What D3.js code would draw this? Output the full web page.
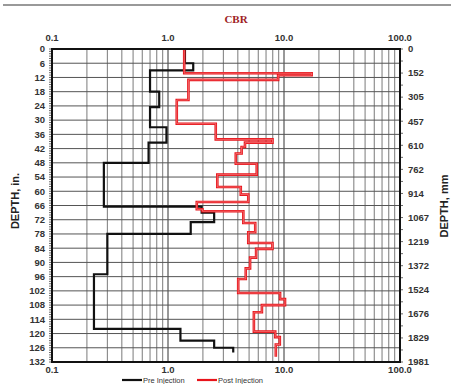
<!DOCTYPE html>
<html>
<head>
<meta charset="utf-8">
<script src="https://cdn.jsdelivr.net/npm/d3@7"></script>
<style>
  body { margin: 0; background: #fff; }
  svg { display: block; font-family: Arial, "Liberation Sans", sans-serif; }
  .lbl { font-size: 9.5px; font-weight: bold; fill: #333; }
</style>
</head>
<body>
<svg id="chart" width="451" height="384"></svg>
<script>
// CBR profile, depth breakpoints (in.) and the value in each layer
var preDepth = [0, 6, 9, 18, 24.5, 33, 39.5, 48, 66.5, 69, 73, 78, 95, 118, 123, 126, 128];
var preCbr = [1.4, 1.65, 0.70, 0.84, 0.70, 0.97, 0.68, 0.28, 1.95, 2.5, 1.57, 0.30, 0.23, 1.28, 2.5, 3.65];

var postDepth = [0, 10.2, 11, 13, 21.5, 31.5, 38.1, 39.5, 41.3, 44.1, 48.4, 53, 58.2, 61.4, 64.5, 67.6, 68.4,
    73.4, 77.3, 81.8, 84.3, 88, 92.5, 97, 102.9, 105.5, 108, 111, 119.2, 121.5, 124.6, 129.8];
var postCbr = [1.38, 17.3, 8.9, 1.50, 1.19, 2.58, 7.95, 4.61, 4.31, 3.84, 5.82, 2.66, 4.24, 4.92, 1.77, 1.98,
    4.46, 5.65, 4.92, 7.95, 5.75, 5.1, 4.68, 4.03, 9.25, 10.2, 6.45, 5.5, 8.4, 9.2, 8.5];

var xTicks = [0.1, 1, 10, 100];
var inTicks = d3.range(0, 133, 6);
var mmTicks = d3.range(0, 14).map(function (i) { return i * 152.4; });

var svg = d3.select("#chart"),
    margin = { top: 49, right: 50, bottom: 22, left: 52 },
    width = +svg.attr("width") - margin.left - margin.right,
    height = +svg.attr("height") - margin.top - margin.bottom;

var x = d3.scaleLog().domain([0.1, 100]).range([margin.left, margin.left + 348]);
var y = d3.scaleLinear().domain([0, 132]).range([margin.top, margin.top + 313]);
var yMm = d3.scaleLinear().domain([0, 1981.2]).range([margin.top, margin.top + 313]);

// top rule + title
svg.append("line")
    .attr("x1", 3).attr("x2", 451).attr("y1", 5).attr("y2", 5)
    .attr("stroke", "#777").attr("stroke-width", 1.5);

svg.append("text")
    .attr("x", 236).attr("y", 23)
    .attr("text-anchor", "middle")
    .style("font-family", "'Liberation Serif', 'DejaVu Serif', serif")
    .style("font-weight", "bold")
    .style("font-size", "11px")
    .style("fill", "#9e2224")
    .text("CBR");

// grid
var minor = [];
[0.1, 1, 10].forEach(function (dec) {
    for (var k = 2; k <= 9; k++) minor.push(dec * k);
});
minor.push(1, 10);

var grid = svg.append("g");
grid.selectAll(".vg")
    .data(minor)
    .enter().append("line")
    .attr("x1", function (d) { return x(d); })
    .attr("x2", function (d) { return x(d); })
    .attr("y1", y(0)).attr("y2", y(132))
    .attr("stroke", function (d) { return (d === 1 || d === 10) ? "#333" : "#7a7a7a"; })
    .attr("stroke-width", 1);

grid.selectAll(".hg")
    .data(inTicks)
    .enter().append("line")
    .attr("x1", x(0.1)).attr("x2", x(100))
    .attr("y1", function (d) { return y(d); })
    .attr("y2", function (d) { return y(d); })
    .attr("stroke", "#555")
    .attr("stroke-width", 1);

// small ticks on left and right border
svg.append("g").selectAll("line")
    .data(d3.range(0, 133, 1))
    .enter().append("line")
    .attr("x1", x(0.1) - 3).attr("x2", x(0.1))
    .attr("y1", function (d) { return y(d); })
    .attr("y2", function (d) { return y(d); })
    .attr("stroke", "#444").attr("stroke-width", 0.8);

svg.append("g").selectAll("line")
    .data(d3.range(0, 1982, 76.2))
    .enter().append("line")
    .attr("x1", x(100)).attr("x2", x(100) + 3)
    .attr("y1", function (d) { return yMm(d); })
    .attr("y2", function (d) { return yMm(d); })
    .attr("stroke", "#444").attr("stroke-width", 0.8);

// step lines
function steps(depth, vals) {
    var pts = [];
    vals.forEach(function (v, i) {
        pts.push([v, depth[i]]);
        pts.push([v, depth[i + 1]]);
    });
    return pts;
}

var line = d3.line()
    .x(function (d) { return x(d[0]); })
    .y(function (d) { return y(d[1]); });

svg.append("path")
    .datum(steps(preDepth, preCbr))
    .attr("d", line)
    .attr("fill", "none")
    .attr("stroke", "#111")
    .attr("stroke-width", 2.2);

svg.append("path")
    .datum(steps(postDepth, postCbr))
    .attr("d", line)
    .attr("fill", "none")
    .attr("stroke", "#e8141b")
    .attr("stroke-width", 2.6);

svg.append("path")
    .datum(steps(postDepth, postCbr))
    .attr("d", line)
    .attr("fill", "none")
    .attr("stroke", "#f58a8a")
    .attr("stroke-width", 0.7);

// border
svg.append("rect")
    .attr("x", x(0.1)).attr("y", y(0))
    .attr("width", x(100) - x(0.1)).attr("height", y(132) - y(0))
    .attr("fill", "none")
    .attr("stroke", "#111")
    .attr("stroke-width", 2);

// x labels top and bottom
[41, 373].forEach(function (ty) {
    svg.append("g").selectAll("text")
        .data(xTicks)
        .enter().append("text")
        .attr("class", "lbl")
        .attr("x", function (d) { return x(d); })
        .attr("y", ty)
        .attr("text-anchor", "middle")
        .text(function (d) { return d3.format(".1f")(d); });
});

// left depth labels (in.)
svg.append("g").selectAll("text")
    .data(inTicks)
    .enter().append("text")
    .attr("class", "lbl")
    .attr("x", 45)
    .attr("y", function (d) { return y(d); })
    .attr("dy", "0.35em")
    .attr("text-anchor", "end")
    .text(function (d) { return d; });

// right depth labels (mm)
svg.append("g").selectAll("text")
    .data(mmTicks)
    .enter().append("text")
    .attr("class", "lbl")
    .attr("x", 408)
    .attr("y", function (d) { return yMm(d); })
    .attr("dy", "0.35em")
    .text(function (d) { return Math.round(d); });

// axis titles
svg.append("text")
    .attr("transform", "translate(19,201) rotate(-90)")
    .attr("text-anchor", "middle")
    .style("font-size", "11px").style("font-weight", "bold").style("fill", "#222")
    .text("DEPTH, in.");

svg.append("text")
    .attr("transform", "translate(448,206) rotate(-90)")
    .attr("text-anchor", "middle")
    .style("font-size", "11px").style("font-weight", "bold").style("fill", "#222")
    .text("DEPTH, mm");

// legend
var legend = [
    { name: "Pre Injection", color: "#111", x: 122 },
    { name: "Post Injection", color: "#e8141b", x: 197 }
];
var lg = svg.append("g").selectAll("g")
    .data(legend)
    .enter().append("g")
    .attr("transform", function (d) { return "translate(" + d.x + ",380)"; });
lg.append("line")
    .attr("x1", 0).attr("x2", 20)
    .attr("stroke", function (d) { return d.color; })
    .attr("stroke-width", 2.2);
lg.append("text")
    .attr("x", 21).attr("dy", "0.35em")
    .style("font-size", "7.5px").style("fill", "#333")
    .text(function (d) { return d.name; });
</script>
</body>
</html>
